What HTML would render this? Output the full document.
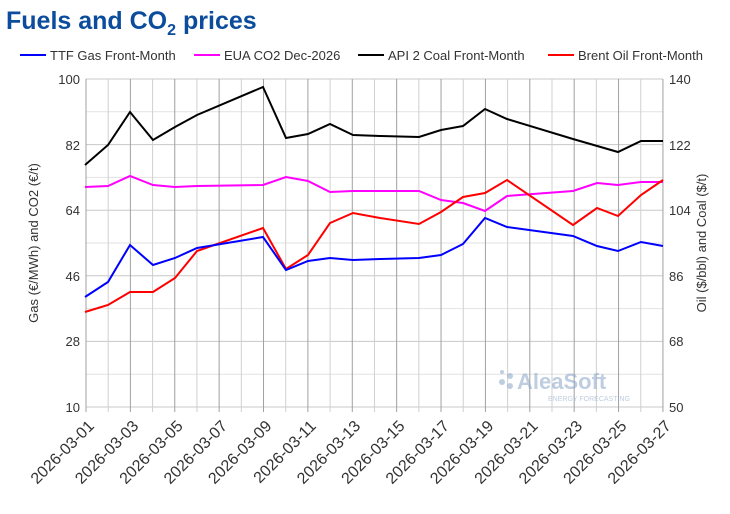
<!DOCTYPE html>
<html><head><meta charset="utf-8"><style>
body{margin:0;background:#fff;width:730px;height:509px;overflow:hidden;font-family:"Liberation Sans",sans-serif}
</style></head><body>
<svg width="730" height="509" xmlns="http://www.w3.org/2000/svg" font-family="Liberation Sans, sans-serif">
<text x="6" y="29" font-size="25" font-weight="bold" fill="#0b4c9c">Fuels and CO<tspan font-size="16" dy="6">2</tspan><tspan dy="-6"> prices</tspan></text>
<g font-size="13" fill="#333">
<line x1="20" y1="55" x2="46" y2="55" stroke="#00f" stroke-width="2"/><text x="50" y="60">TTF Gas Front-Month</text>
<line x1="194" y1="55" x2="220" y2="55" stroke="#f0f" stroke-width="2"/><text x="224" y="60">EUA CO2 Dec-2026</text>
<line x1="358" y1="55" x2="384" y2="55" stroke="#000" stroke-width="2"/><text x="388" y="60">API 2 Coal Front-Month</text>
<line x1="548" y1="55" x2="574" y2="55" stroke="#f00" stroke-width="2"/><text x="578" y="60">Brent Oil Front-Month</text>
</g>
<g id="grid"></g>
<g font-size="13" fill="#333" text-anchor="end">
<text x="80" y="84">100</text><text x="80" y="150">82</text><text x="80" y="215">64</text><text x="80" y="281">46</text><text x="80" y="346">28</text><text x="80" y="412">10</text>
</g>
<g font-size="13" fill="#333">
<text x="669" y="84">140</text><text x="669" y="150">122</text><text x="669" y="215">104</text><text x="669" y="281">86</text><text x="669" y="346">68</text><text x="669" y="412">50</text>
</g>
<text transform="translate(38,243) rotate(-90)" font-size="13" fill="#333" text-anchor="middle">Gas (€/MWh) and CO2 (€/t)</text>
<text transform="translate(706,243) rotate(-90)" font-size="13" fill="#333" text-anchor="middle">Oil ($/bbl) and Coal ($/t)</text>
<g id="dates" font-size="16" fill="#333" text-anchor="end"></g>
<g opacity="0.55">
<circle cx="502" cy="382" r="3" fill="#8aa6c8"/><circle cx="510" cy="376" r="3" fill="#8aa6c8"/><circle cx="510" cy="386" r="3" fill="#8aa6c8"/><circle cx="502" cy="372" r="2" fill="#8aa6c8"/>
<text x="517" y="389" font-size="22" font-weight="bold" fill="#8aa6c8">AleaSoft</text>
<text x="548" y="401" font-size="7" fill="#8aa6c8">ENERGY FORECASTING</text>
</g>
<polyline fill="none" stroke="#000" stroke-width="2" points="85,165 108,145 130,112 153,140 175,127 197,115 263,87 286,138 308,134 330,124 353,135 380,136 419,137 441,130 463,126 485,109 507,119 573,139 618,152 641,141 663,141"/>
<polyline fill="none" stroke="#f0f" stroke-width="2" points="85,187 108,186 130,176 153,185 175,187 197,186 263,185 286,177 308,181 330,192 353,191 380,191 419,191 441,200 463,203 485,211 507,196 573,191 597,183 618,185 641,182 663,182"/>
<polyline fill="none" stroke="#f00" stroke-width="2" points="85,312 108,305 130,292 153,292 175,278 197,251 263,228 286,269 308,255 330,223 353,213 380,218 419,224 441,212 463,197 485,193 507,180 573,225 597,208 618,216 641,195 663,180"/>
<polyline fill="none" stroke="#00f" stroke-width="2" points="85,297 108,282 130,245 153,265 175,258 197,248 263,237 286,270 308,261 330,258 353,260 380,259 419,258 441,255 463,244 485,218 507,227 573,236 597,246 618,251 641,242 663,246"/>
</svg>
<script>
const ns="http://www.w3.org/2000/svg";
const g=document.getElementById("grid"),d=document.getElementById("dates");
function ln(x1,y1,x2,y2,c){const l=document.createElementNS(ns,"line");l.setAttribute("x1",x1);l.setAttribute("y1",y1);l.setAttribute("x2",x2);l.setAttribute("y2",y2);l.setAttribute("stroke",c);l.setAttribute("stroke-width",1);g.appendChild(l);}
for(let k=0;k<=10;k++){const y=79+k*32.8;ln(86,y,663,y,k%2==0?"#c8c8c8":"#e2e2e2");}
for(let i=0;i<27;i++){const x=86+i*22.19;ln(x,79,x,412,i%2==0?"#a0a0a0":"#d0d0d0");
if(i%2==0){const t=document.createElementNS(ns,"text");const dd=String(i+1).padStart(2,"0");t.textContent="2026-03-"+dd;t.setAttribute("transform","translate("+(x+9)+",427) rotate(-45)");d.appendChild(t);}}
</script>
</body></html>
